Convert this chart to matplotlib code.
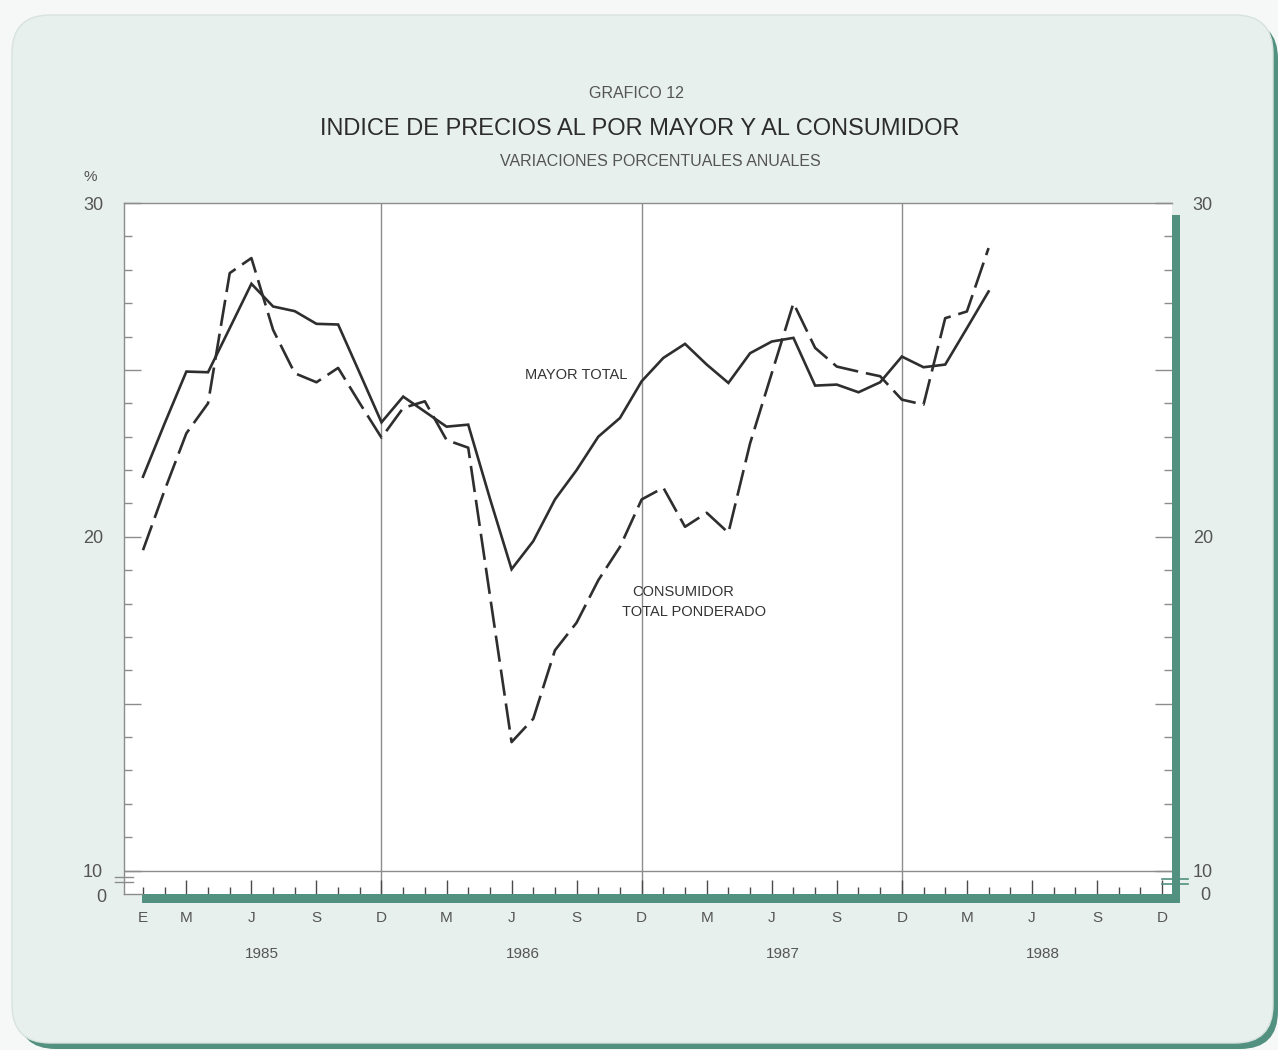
import numpy as np
import matplotlib
matplotlib.use("Agg")
import matplotlib.pyplot as plt
from matplotlib.patches import FancyBboxPatch, Rectangle
from matplotlib.lines import Line2D

plt.rcParams['font.family'] = ['Liberation Sans', 'DejaVu Sans']

# --- DATA (monthly, Jan 1985 .. Apr 1988), % annual change ---
months = np.arange(40)  # 0 = Jan 1985
mayor_total = [21.8, 23.4, 24.95, 24.93, 26.25, 27.58, 26.9, 26.76, 26.38, 26.36,
               24.9, 23.43, 24.2, 23.75, 23.3, 23.36, 21.15, 19.03, 19.87, 21.12,
               22.0, 23.0, 23.56, 24.66, 25.36, 25.78, 25.16, 24.61, 25.5, 25.85,
               25.96, 24.53, 24.56, 24.33, 24.63, 25.4, 25.08, 25.16, 26.25, 27.35]
consumidor = [19.6, 21.4, 23.1, 24.0, 27.9, 28.35, 26.2, 24.9, 24.63, 25.06,
              24.0, 22.97, 23.86, 24.06, 22.9, 22.67, 18.25, 13.85, 14.55, 16.6,
              17.43, 18.7, 19.7, 21.12, 21.47, 20.3, 20.72, 20.12, 22.8, 24.9,
              27.0, 25.66, 25.1, 24.95, 24.81, 24.11, 23.96, 26.55, 26.75, 28.65]

month_pos = [0, 2, 5, 8, 11, 14, 17, 20, 23, 26, 29, 32, 35, 38, 41, 44, 47]
month_lbl = ['E', 'M', 'J', 'S', 'D', 'M', 'J', 'S', 'D', 'M', 'J', 'S', 'D', 'M', 'J', 'S', 'D']
years = ['1985', '1986', '1987', '1988']
year_pos = [5.5, 17.5, 29.5, 41.5]
dec_lines = [11, 23, 35]

W, H = 1278, 1050
TEAL = '#52907f'
CARD = '#e7f0ec'
GREY = '#8c8c8c'
TXT = '#555555'

fig = plt.figure(figsize=(W / 100, H / 100), dpi=100)
fig.patch.set_facecolor('#f6f8f7')

# --- background card (pixel coordinates) ---
bg = fig.add_axes([0, 0, 1, 1], zorder=-5)
bg.set_xlim(0, W)
bg.set_ylim(H, 0)
bg.axis('off')
bg.add_patch(FancyBboxPatch((18, 21), 1260, 1028, boxstyle="round,pad=0,rounding_size=38",
                            fc=TEAL, ec='none'))
bg.add_patch(FancyBboxPatch((12, 15), 1261, 1028, boxstyle="round,pad=0,rounding_size=38",
                            fc=CARD, ec='#d8e2de', lw=1))

# --- titles ---
bg.text(636, 93, 'GRAFICO 12', ha='center', va='center', fontsize=11.5, color=TXT)
bg.text(640, 129, 'INDICE DE PRECIOS AL POR MAYOR Y AL CONSUMIDOR', ha='center', va='center',
        fontsize=17, color='#2c2c2c')
bg.text(660, 162, 'VARIACIONES PORCENTUALES ANUALES', ha='center', va='center',
        fontsize=11.5, color=TXT)
bg.text(90, 177, '%', ha='center', va='center', fontsize=11, color=TXT)

# --- main axes ---
left, right, top, bottom = 124, 1172, 203, 894
ax = fig.add_axes([left / W, 1 - bottom / H, (right - left) / W, (bottom - top) / H])
ax.set_facecolor('white')
ax.set_xlim(-0.876, 47.46)
ax.set_ylim(9.30, 30)

for m in dec_lines:
    ax.axvline(m, color=GREY, lw=1, zorder=1)
ax.axhline(10, color=GREY, lw=1, zorder=1)

ax.plot(months, mayor_total, color='#2e2e2e', lw=1.9, solid_joinstyle='miter', zorder=3)
ax.plot(months, consumidor, color='#2e2e2e', lw=1.9, linestyle=(0, (10, 3)), zorder=3)

ax.text(20.0, 24.85, 'MAYOR TOTAL', ha='center', va='center', fontsize=10.5, color='#333333')
ax.text(24.9, 18.35, 'CONSUMIDOR', ha='center', va='center', fontsize=10.5, color='#333333')
ax.text(25.4, 17.75, 'TOTAL PONDERADO', ha='center', va='center', fontsize=10.5, color='#333333')

for s in ['bottom', 'right']:
    ax.spines[s].set_visible(False)
for s in ['top', 'left']:
    ax.spines[s].set_color(GREY)
    ax.spines[s].set_linewidth(1)

# y ticks both sides, inward
ax.set_yticks([10, 15, 20, 25, 30])
ax.set_yticklabels(['10', '', '20', '', '30'])
ax.set_yticks(np.arange(11, 30), minor=True)
ax.tick_params(axis='y', which='major', direction='in', length=12, width=1, color=GREY,
               left=True, right=True, labelleft=True, labelright=True,
               labelsize=13, labelcolor=TXT, pad=15)
ax.tick_params(axis='y', which='minor', direction='in', length=6, width=1, color=GREY,
               left=True, right=True)

# x ticks: monthly short, quarterly tall, rising from the bar
ax.set_xticks(np.arange(2, 48, 3))
ax.set_xticks(np.arange(0, 48), minor=True)
ax.tick_params(axis='x', which='major', direction='in', length=10, width=1, color='#4a4a4a',
               labelbottom=False)
ax.tick_params(axis='x', which='minor', direction='in', length=5, width=1, color='#4a4a4a')

for p, t in zip(month_pos, month_lbl):
    ax.text(p, -0.024, t, transform=ax.get_xaxis_transform(), ha='center', va='top',
            fontsize=11, color=TXT)
for p, t in zip(year_pos, years):
    ax.text(p, -0.076, t, transform=ax.get_xaxis_transform(), ha='center', va='top',
            fontsize=11, color=TXT)

# --- teal frame bars, break marks, zero labels (pixel coordinates) ---
px = bg.transData
fig.add_artist(Rectangle((142, 894), 1180 - 142, 9, fc=TEAL, ec='none', transform=px, zorder=2))
fig.add_artist(Rectangle((1172, 215), 8, 903 - 215, fc=TEAL, ec='none', transform=px, zorder=2))
fig.add_artist(Line2D([124, 142], [894, 894], color=GREY, lw=1, transform=px, zorder=2))
for yy in (877, 882):
    fig.add_artist(Line2D([115, 133], [yy, yy], color=GREY, lw=1, transform=px, zorder=2))
    fig.add_artist(Line2D([1162, 1188], [yy + 2, yy + 2], color=TEAL, lw=1.2, transform=px, zorder=2))
bg.text(106, 897, '0', ha='right', va='center', fontsize=13, color=TXT)
bg.text(1200, 895, '0', ha='left', va='center', fontsize=13, color=TXT)

fig.savefig('out.png', dpi=100, facecolor=fig.get_facecolor())
